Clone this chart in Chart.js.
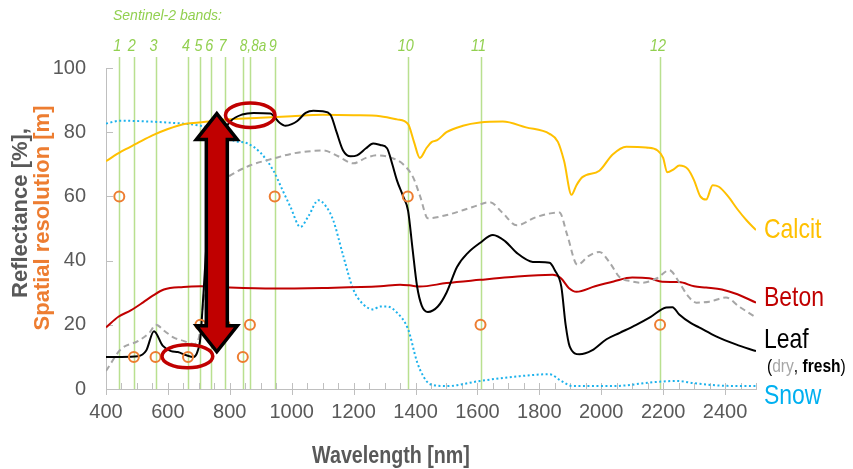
<!DOCTYPE html>
<html><head><meta charset="utf-8">
<script src="https://cdn.jsdelivr.net/npm/chart.js@4.4.1/dist/chart.umd.min.js"></script>
<style>html,body{margin:0;padding:0;background:#fff;}#wrap{width:853px;height:469px;position:relative;}</style>
</head><body><div id="wrap"><canvas id="c"></canvas></div>
<script>
// ---------- DATA ----------
const bandLabels = ['1','2','3','4','5','6','7','8,8a','','9','10','11','12'];
const bandWavelengths = [443,490,560,665,705,740,783,842,865,945,1375,1610,2190];
const bandResolution = [60,10,10,10,20,20,20,10,20,60,60,20,20];

const xTicks = [400,600,800,1000,1200,1400,1600,1800,2000,2200,2400];
const yTicks = [0,20,40,60,80,100];

const calcitWl = [400,450,500,550,600,650,700,750,800,900,1000,1100,1200,1286,1340,1376,1395,1414,1435,1453,1470,1500,1553,1608,1682,1757,1833,1860,1880,1904,1920,1939,1994,2036,2081,2145,2182,2200,2213,2235,2252,2280,2300,2320,2339,2360,2380,2410,2440,2470,2500];
const calcitR  = [71,74,76.5,79,81,82.5,83,83.6,84,84.5,85,85.4,85.3,85,84,82.5,77,72,75,77,77.5,80,82,83,83.3,81.5,79.5,77,71,60.5,63.5,66,68,73,75.5,75.2,74.3,72,67.5,68.5,69.6,68.5,65,60,59,63.5,63,60,56,52.5,49.5];

const betonWl = [400,440,480,520,550,587,650,706,800,941,1100,1286,1350,1380,1414,1500,1608,1700,1843,1870,1895,1920,1980,2040,2100,2155,2197,2252,2300,2339,2390,2440,2500];
const betonR  = [19.2,22.5,24.5,27,29,31,31.8,32,31.6,31.3,31.5,32,32.5,32.3,31.9,33,34,34.8,35.6,34.5,31.5,30.3,32,33.5,34.7,34.5,33.4,33.3,32,31.6,31,29.5,26.9];

const leafFreshWl = [400,450,503,530,555,583,610,632,660,683,695,705,715,728,745,765,785,803,840,877,931,960,980,1000,1018,1045,1070,1100,1125,1145,1166,1190,1211,1240,1263,1286,1308,1325,1340,1360,1376,1390,1405,1420,1440,1472,1500,1534,1570,1608,1650,1690,1727,1779,1833,1850,1871,1885,1898,1930,1970,2017,2060,2113,2160,2210,2230,2252,2290,2316,2371,2435,2500];
const leafFreshR  = [10,10,10.2,12,18,13.5,11.8,11.5,10.5,10,11.5,16,30,50,66,76,81,83.5,85.5,86,85.8,83,82,82.5,83.5,86,86.7,86.5,85.5,80,74.3,72.5,72.8,75,76.5,76,75,70,65,60,55.5,44,32,26,24,25.7,30,38,42.5,45.5,48,46,42.4,39.6,39.3,37,31.9,20,13.3,10.8,12,15.5,17.5,20,22.5,25.4,25.5,23.2,20.5,19.2,16.4,13.9,11.8];

const leafDryWl = [400,448,503,540,561,590,619,650,683,700,715,738,760,780,803,867,941,1005,1050,1102,1150,1199,1240,1276,1328,1360,1392,1415,1440,1501,1585,1640,1680,1727,1791,1865,1890,1923,1960,1994,2030,2058,2100,2133,2180,2220,2252,2280,2307,2349,2403,2445,2500];
const leafDryR  = [5.6,12.4,14.9,17.5,20,18,16,15,14,16,28,54.8,62,65,66.6,69.7,71.8,73.4,74,74.3,72.5,70.3,72,72.8,71.8,70,66,60,53.2,54.2,56.7,58.2,55,51,53.6,55,48,38.7,41.5,42.7,39,35,33.5,33.1,34.5,37,33.2,29,26.9,27.2,28.5,25.7,22.3];

const snowWl = [400,448,520,600,706,760,812,857,900,941,970,996,1028,1055,1086,1110,1134,1165,1199,1230,1263,1286,1308,1340,1376,1405,1425,1447,1501,1608,1737,1833,1871,1907,2036,2178,2245,2300,2400,2500];
const snowR  = [82.7,83.6,83.4,83,82,80.5,77.4,76.5,73.5,68,62,56.7,50.5,54,58.8,57,52.6,42,31,26.5,24.8,25.7,25.7,23.8,18.6,8.4,4,1.5,0.9,2.5,4,4.6,2.5,0.9,0.9,2.2,2.5,1.8,1,0.9];

// annotation (data units)
const arrowWl = 758;
const arrowTop = 85.8;
const arrowBottom = 11.6;
const ellipses = [
  {wl: 663, r: 10.2, dWl: 82, dR: 3.6},
  {wl: 866, r: 85.3, dWl: 80, dR: 3.8}
];
const seriesLabels = [
  {text:'Calcit', color:'#ffc000', r: 47.0},
  {text:'Beton', color:'#c00000', r: 25.9},
  {text:'Leaf', color:'#000000', r: 12.8},
  {text:'Snow', color:'#00b0f0', r: -4.7}
];
const subLabelR = 5.4;

// ---------- CHART ----------
const SANS = "'Liberation Sans',Arial,sans-serif";
const GREEN = '#92d050';
const pts = (xs, ys) => xs.map((x, i) => ({x: x, y: ys[i]}));

const probe = document.createElement('canvas').getContext('2d');
function hasFont(name) {
  probe.font = "20px monospace"; const a = probe.measureText('Wavelength 1000').width;
  probe.font = "20px '" + name + "', monospace"; const b = probe.measureText('Wavelength 1000').width;
  return Math.abs(a - b) > 0.5;
}
const NARROW_FACE = hasFont('Liberation Sans Narrow') ? "'Liberation Sans Narrow'" : (hasFont('Arial Narrow') ? "'Arial Narrow'" : null);
const TICK_FONT = NARROW_FACE ? {family: NARROW_FACE, size: 22} : {family: SANS, size: 20};

function narrowText(ctx, text, x, y, size, weight, color, align) {
  ctx.save();
  ctx.fillStyle = color;
  ctx.textBaseline = 'alphabetic';
  if (NARROW_FACE) {
    ctx.font = weight + ' ' + size + 'px ' + NARROW_FACE;
    ctx.textAlign = align; ctx.fillText(text, x, y);
    const w = ctx.measureText(text).width; ctx.restore(); return w;
  }
  ctx.font = weight + ' ' + size + 'px ' + SANS;
  ctx.translate(x, y); ctx.scale(0.82, 1);
  ctx.textAlign = align; ctx.fillText(text, 0, 0);
  const w = ctx.measureText(text).width * 0.82; ctx.restore(); return w;
}

const lineDs = (label, xs, ys, color, extra) => Object.assign({
  label: label, data: pts(xs, ys), showLine: true, borderColor: color, backgroundColor: color,
  borderWidth: 2, pointRadius: 0, pointHoverRadius: 0, tension: 0.4, cubicInterpolationMode: 'monotone'
}, extra || {});

const decor = {
  id: 'decor',
  beforeDatasetsDraw(chart) {
    const {ctx, chartArea: a, scales: {x, y}} = chart;
    ctx.save();
    ctx.strokeStyle = '#b9e08f';
    ctx.lineWidth = 1.5;
    bandWavelengths.forEach(w => {
      const px = Math.round(x.getPixelForValue(w)) + 0.5;
      ctx.beginPath(); ctx.moveTo(px, 57); ctx.lineTo(px, a.bottom); ctx.stroke();
    });
    ctx.strokeStyle = '#bfbfbf';
    ctx.lineWidth = 1;
    for (let w = 400; w <= 2500; w += 50) {
      const px = Math.round(x.getPixelForValue(w)) + 0.5;
      const major = (w % 200 === 0);
      ctx.beginPath(); ctx.moveTo(px, a.bottom - 6); ctx.lineTo(px, major ? a.bottom + 6 : a.bottom); ctx.stroke();
    }
    yTicks.forEach(v => {
      const py = Math.round(y.getPixelForValue(v)) + 0.5;
      ctx.beginPath(); ctx.moveTo(a.left, py); ctx.lineTo(a.left + 7, py); ctx.stroke();
    });
    ctx.restore();
  },
  afterDatasetsDraw(chart) {
    const {ctx, scales: {x, y}} = chart;
    ctx.save();
    // ellipses
    ctx.strokeStyle = '#c00000';
    ctx.lineWidth = 3.5;
    ellipses.forEach(e => {
      const cx = x.getPixelForValue(e.wl), cy = y.getPixelForValue(e.r);
      const rx = x.getPixelForValue(e.wl + e.dWl) - cx;
      const ry = cy - y.getPixelForValue(e.r + e.dR);
      ctx.beginPath(); ctx.ellipse(cx, cy, rx, ry, 0, 0, Math.PI * 2); ctx.stroke();
    });
    // arrow
    const cx = x.getPixelForValue(arrowWl);
    const yt = y.getPixelForValue(arrowTop), yb = y.getPixelForValue(arrowBottom);
    const hl = 26, hw = 20.5, sw = 10.5;
    ctx.beginPath();
    ctx.moveTo(cx, yt);
    ctx.lineTo(cx + hw, yt + hl); ctx.lineTo(cx + sw, yt + hl);
    ctx.lineTo(cx + sw, yb - hl); ctx.lineTo(cx + hw, yb - hl);
    ctx.lineTo(cx, yb);
    ctx.lineTo(cx - hw, yb - hl); ctx.lineTo(cx - sw, yb - hl);
    ctx.lineTo(cx - sw, yt + hl); ctx.lineTo(cx - hw, yt + hl);
    ctx.closePath();
    ctx.fillStyle = '#c00000'; ctx.fill();
    ctx.strokeStyle = '#000'; ctx.lineWidth = 3.5; ctx.lineJoin = 'miter'; ctx.stroke();

    // band labels
    ctx.fillStyle = GREEN;
    ctx.textBaseline = 'alphabetic';
    ctx.font = 'italic 17px ' + SANS;
    bandWavelengths.forEach((w, i) => {
      const t = bandLabels[i]; if (!t) return;
      const px = x.getPixelForValue(w);
      ctx.save();
      if (t.length > 2) { ctx.translate(px - 3, 51); ctx.scale(0.8, 1); ctx.textAlign = 'left'; }
      else { ctx.translate(px - 2, 51); ctx.scale(0.85, 1); ctx.textAlign = 'center'; }
      ctx.fillText(t, 0, 0);
      ctx.restore();
    });
    ctx.textAlign = 'left';
    ctx.font = 'italic 14px ' + SANS;
    ctx.fillText('Sentinel-2 bands:', 113, 20);

    // series labels
    seriesLabels.forEach(s => {
      narrowText(ctx, s.text, 764, y.getPixelForValue(s.r), 28, 'normal', s.color, 'left');
    });
    let tx = 767; const ty = y.getPixelForValue(subLabelR);
    tx += narrowText(ctx, '(', tx, ty, 19, 'normal', '#000', 'left');
    tx += narrowText(ctx, 'dry', tx, ty, 19, 'normal', '#a6a6a6', 'left');
    tx += narrowText(ctx, ', ', tx, ty, 19, 'normal', '#000', 'left');
    tx += narrowText(ctx, 'fresh', tx, ty, 19, 'bold', '#000', 'left');
    narrowText(ctx, ')', tx, ty, 19, 'normal', '#000', 'left');

    // axis titles
    narrowText(ctx, 'Wavelength [nm]', 391, 463, 24, 'bold', '#595959', 'center');
    ctx.textAlign = 'center';
    ctx.textBaseline = 'middle';
    ctx.save();
    ctx.translate(21, 213); ctx.rotate(-Math.PI / 2);
    ctx.font = 'bold 22px ' + SANS;
    ctx.fillStyle = '#595959';
    ctx.fillText('Reflectance [%],', 0, 0);
    ctx.restore();
    ctx.save();
    ctx.translate(43, 218); ctx.rotate(-Math.PI / 2);
    ctx.font = 'bold 22px ' + SANS;
    ctx.fillStyle = '#ed7d31';
    ctx.fillText('Spatial resolution [m]', 0, 0);
    ctx.restore();
    ctx.restore();
  }
};

new Chart(document.getElementById('c'), {
  type: 'scatter',
  data: {datasets: [
    {label: 'Spatial resolution', data: pts(bandWavelengths, bandResolution), showLine: false,
     pointStyle: 'circle', pointRadius: 5, pointHoverRadius: 5, pointBorderWidth: 2,
     borderColor: '#ed7d31', backgroundColor: 'rgba(255,255,255,0)'},
    lineDs('Leaf fresh', leafFreshWl, leafFreshR, '#000000'),
    lineDs('Leaf dry', leafDryWl, leafDryR, '#a6a6a6', {borderDash: [6, 4]}),
    lineDs('Beton', betonWl, betonR, '#c00000'),
    lineDs('Calcit', calcitWl, calcitR, '#ffc000'),
    lineDs('Snow', snowWl, snowR, '#1cb2ec', {borderDash: [2, 2.5]})
  ]},
  options: {
    responsive: true, maintainAspectRatio: false, animation: false, events: [],
    plugins: {legend: {display: false}, tooltip: {enabled: false}},
    layout: {padding: {top: 68, right: 97, left: 0, bottom: 0}},
    scales: {
      x: {
        type: 'linear', min: 400, max: 2500,
        afterBuildTicks: s => { s.ticks = xTicks.map(v => ({value: v})); },
        afterFit: s => { s.height = 80; },
        ticks: {color: '#595959', font: TICK_FONT, padding: 11, maxRotation: 0, autoSkip: false,
                callback: v => String(v)},
        grid: {display: true, drawOnChartArea: false, drawTicks: false},
        border: {color: '#bfbfbf', width: 1}
      },
      y: {
        min: 0, max: 100,
        afterBuildTicks: s => { s.ticks = yTicks.map(v => ({value: v})); },
        afterFit: s => { s.width = 106; },
        ticks: {color: '#595959', font: TICK_FONT, padding: 20, callback: v => String(v)},
        grid: {display: true, drawOnChartArea: false, drawTicks: false},
        border: {color: '#bfbfbf', width: 1}
      }
    }
  },
  plugins: [decor]
});
</script>
</body></html>
